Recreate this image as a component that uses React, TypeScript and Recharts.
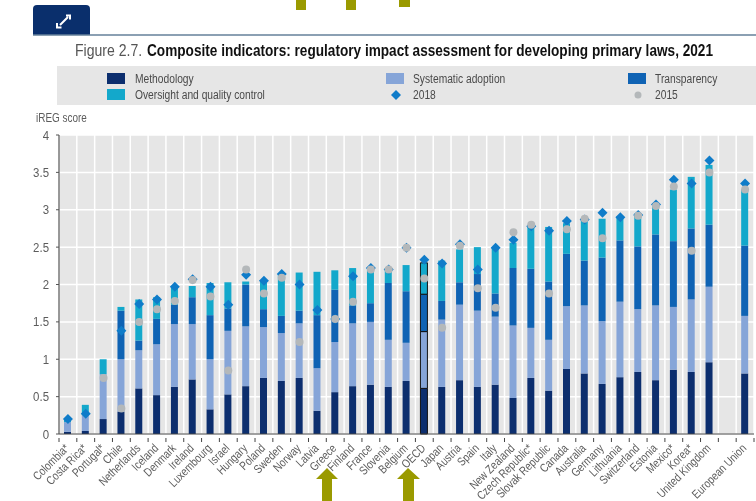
import React from "react";
import { ComposedChart, Bar, Line, XAxis, YAxis, CartesianGrid, Legend, Cell } from "recharts";

const countries = ["Colombia*","Costa Rica*","Portugal*","Chile","Netherlands","Iceland","Denmark","Ireland","Luxembourg","Israel","Hungary","Poland","Sweden","Norway","Latvia","Greece","Finland","France","Slovenia","Belgium","OECD","Japan","Austria","Spain","Italy","New Zealand","Czech Republic*","Slovak Republic","Canada","Australia","Germany","Lithuania","Switzerland","Estonia","Mexico*","Korea*","United Kingdom"," ","European Union"];
const methodology = [.03,.04,.2,.3,.61,.52,.63,.73,.33,.53,.64,.75,.71,.75,.31,.56,.64,.66,.63,.71,.61,.63,.72,.63,.66,.48,.75,.58,.87,.81,.67,.76,.83,.72,.86,.83,.96,null,.81];
const adoption = [.13,.21,.6,.7,.51,.68,.84,.74,.67,.85,.8,.68,.64,.73,.57,.67,.84,.84,.63,.51,.76,.9,1.01,1.02,.91,.97,.67,.68,.84,.91,.84,1.01,.84,1.0,.84,.97,1.01,null,.77];
const transparency = [0,0,0,.65,.13,.34,.26,.36,.59,.3,.56,.24,.23,.17,.71,.7,.24,.25,.76,.69,.5,.25,.3,.49,.31,.77,.79,.78,.7,.6,.85,.82,.84,.95,.88,.95,.83,null,.94];
const oversight = [.04,.14,.2,.05,.55,.29,.24,.15,.43,.35,.04,.38,.55,.51,.58,.26,.5,.46,.2,.35,.42,.54,.44,.36,.61,.34,.56,.73,.41,.55,.52,.32,.44,.42,.69,.69,.8,null,.75];
const score2018 = [.2,.27,null,1.38,1.74,1.8,1.97,2.07,1.97,1.73,2.13,2.05,2.14,2.0,1.66,1.54,2.11,2.22,2.2,2.49,2.33,2.28,2.54,2.2,2.49,2.6,2.78,2.72,2.85,2.87,2.96,2.9,2.93,3.07,3.4,3.35,3.66,null,3.35];
const score2015 = [null,null,.75,.34,1.5,1.67,1.78,2.06,1.84,.85,2.2,1.88,2.09,1.23,null,1.54,1.77,2.2,2.2,2.49,2.08,1.42,2.52,1.95,1.69,2.7,2.8,1.88,2.74,2.88,2.62,null,2.92,3.05,3.31,2.45,3.5,null,3.27];
const yTicks = [0,.5,1,1.5,2,2.5,3,3.5,4];
const legendOrder = ["Methodology","Systematic adoption","Transparency","Oversight and quality control","2018","2015"];
const titleLead = "Figure 2.7.";
const titleMain = "Composite indicators: regulatory impact assessment for developing primary laws, 2021";
const axisTitle = "iREG score";

const data = countries.map((name, i) => ({
  name,
  methodology: methodology[i], adoption: adoption[i], transparency: transparency[i], oversight: oversight[i],
  y2018: score2018[i], y2015: score2015[i],
}));

const FONT = "'Liberation Sans',Arial,sans-serif";
const C = { m: "#0c2e6e", a: "#86a5d8", t: "#0f63b4", o: "#13a8cb", d: "#0f7cc9", g: "#b4b8ba" };
const OLIVE = "#9a9a00";

const Diamond = (p: any) => p.value == null ? null : <path d={`M${p.cx} ${p.cy - 5}L${p.cx + 5} ${p.cy}L${p.cx} ${p.cy + 5}L${p.cx - 5} ${p.cy}Z`} fill={C.d} />;
const Dot = (p: any) => p.value == null ? null : <circle cx={p.cx} cy={p.cy} r={4} fill={C.g} />;

const XTick = (p: any) => {
  const { x, y, payload, index, visibleTicksCount } = p;
  const step = 695 / 39;
  const tx = x + 2, ty = y + 7;
  return (
    <g>
      <line x1={x - step / 2} x2={x - step / 2} y1={y - 4} y2={y} stroke="#444" />
      {index === visibleTicksCount - 1 ? <line x1={x + step / 2} x2={x + step / 2} y1={y - 4} y2={y} stroke="#444" /> : null}
      <text textAnchor="end" fontFamily={FONT} fontSize={12} fill="#5c5c5c" transform={`translate(${tx} ${ty}) rotate(-45) scale(0.82 1)`}>{payload.value}</text>
    </g>
  );
};

const YTick = (p: any) => {
  const { x, y, payload } = p;
  return (
    <text textAnchor="end" fontFamily={FONT} fontSize={13} fill="#5c5c5c" transform={`translate(${x - 5} ${y + 4.5}) scale(0.88 1)`}>{String(payload.value)}</text>
  );
};

const LegendBox = (props: any) => {
  const items = props.payload || [];
  const cols = [107, 386, 628];
  return (
    <div style={{ position: "relative", height: 0 }}>
      {legendOrder.map((n, i) => {
        const it = items.find((q: any) => q.value === n);
        const cx = cols[i % 3], cy = i < 3 ? 79 : 95;
        const color = it ? it.color : "#000";
        return (
          <div key={n} style={{ position: "absolute", left: cx, top: cy - 8, height: 16, whiteSpace: "nowrap" }}>
            <svg width={20} height={16} style={{ position: "absolute", left: 0, top: 0 }}>
              {n === "2018" ? <path d="M10 3L15 8L10 13L5 8Z" fill={C.d} /> :
               n === "2015" ? <circle cx={10} cy={8} r={3.5} fill={C.g} /> :
               <rect x={0} y={2} width={18} height={11} fill={color} />}
            </svg>
            <span style={{ position: "absolute", left: i % 3 === 0 ? 28 : 27, top: 0, lineHeight: "16px", fontFamily: FONT, fontSize: 12.5, color: "#4a4a4a", transform: "scaleX(0.82)", transformOrigin: "left center" }}>{n}</span>
          </div>
        );
      })}
    </div>
  );
};

const gridX = ({ offset }: any) => countries.map((_, i) => offset.left + (offset.width * i) / countries.length).concat(offset.left + offset.width);

export default function App() {
  return (
    <div style={{ position: "absolute", left: 0, top: 0, width: 756, height: 501, overflow: "hidden", background: "#fff", filter: "blur(0.4px)" }}>
      <svg width={756} height={501} style={{ position: "absolute", left: 0, top: 0 }}>
        <rect x={296} y={0} width={10} height={10} fill={OLIVE} />
        <rect x={346} y={0} width={10} height={10} fill={OLIVE} />
        <rect x={399} y={0} width={11} height={7} fill={OLIVE} />
        <path d="M33 35V9Q33 5 37 5H86Q90 5 90 9V35Z" fill="#0a2f6c" />
        <line x1={33} x2={756} y1={35} y2={35} stroke="#64809a" strokeWidth={1.5} />
        <path d="M60 25L68 17M66 15.5H70V19.5M57 23V27.5H61.5" stroke="#fff" strokeWidth={2} fill="none" />
        <text fontFamily={FONT} fontSize={16.5} fill="#555" transform="translate(75 56) scale(0.8 1)" textLength={84} lengthAdjust="spacingAndGlyphs">{titleLead}</text>
        <text fontFamily={FONT} fontSize={16.5} fill="#111" fontWeight="bold" transform="translate(147 56) scale(0.8 1)" textLength={707.5} lengthAdjust="spacingAndGlyphs">{titleMain}</text>
        <rect x={57} y={66} width={699} height={39} fill="#e6e6e6" />
        <text fontFamily={FONT} fontSize={12} fill="#5c5c5c" transform="translate(36 122) scale(0.83 1)">{axisTitle}</text>
      </svg>
      <div style={{ position: "absolute", left: 0, top: 0 }}>
        <ComposedChart width={756} height={501} data={data} barCategoryGap="0%" margin={{ top: 135, right: 2, bottom: 0, left: 0 }}>
          <CartesianGrid fill="#e6e6e6" stroke="#fff" strokeWidth={1.5} verticalCoordinatesGenerator={gridX} />
          <XAxis dataKey="name" interval={0} height={67} tick={<XTick />} tickLine={false} axisLine={{ stroke: "#444", strokeWidth: 1.2 }} />
          <YAxis type="number" domain={[0, 4]} ticks={yTicks} width={59} tick={<YTick />} tickSize={3} axisLine={{ stroke: "#555", strokeWidth: 1.2 }} tickLine={{ stroke: "#555" }} />
          <Legend content={<LegendBox />} wrapperStyle={{ position: "absolute", left: 0, top: 0, width: 756, height: 0 }} />
          <Bar dataKey="methodology" name="Methodology" stackId="s" fill={C.m} barSize={7} isAnimationActive={false} legendType="rect">
            {data.map((d) => <Cell key={d.name} stroke={d.name === "OECD" ? "#111" : "none"} />)}
          </Bar>
          <Bar dataKey="adoption" name="Systematic adoption" stackId="s" fill={C.a} barSize={7} isAnimationActive={false} legendType="rect">
            {data.map((d) => <Cell key={d.name} stroke={d.name === "OECD" ? "#111" : "none"} />)}
          </Bar>
          <Bar dataKey="transparency" name="Transparency" stackId="s" fill={C.t} barSize={7} isAnimationActive={false} legendType="rect">
            {data.map((d) => <Cell key={d.name} stroke={d.name === "OECD" ? "#111" : "none"} />)}
          </Bar>
          <Bar dataKey="oversight" name="Oversight and quality control" stackId="s" fill={C.o} barSize={7} isAnimationActive={false} legendType="rect">
            {data.map((d) => <Cell key={d.name} stroke={d.name === "OECD" ? "#111" : "none"} />)}
          </Bar>
          <Line dataKey="y2018" name="2018" stroke="none" dot={<Diamond />} activeDot={false} isAnimationActive={false} legendType="diamond" />
          <Line dataKey="y2015" name="2015" stroke="none" dot={<Dot />} activeDot={false} isAnimationActive={false} legendType="circle" />
        </ComposedChart>
      </div>
      <svg width={756} height={501} style={{ position: "absolute", left: 0, top: 0, pointerEvents: "none" }}>
        <path d="M327 468L338 479H332V501H322V479H316Z" fill={OLIVE} />
        <path d="M408 468L420 479H414V501H403V479H397Z" fill={OLIVE} />
      </svg>
    </div>
  );
}
